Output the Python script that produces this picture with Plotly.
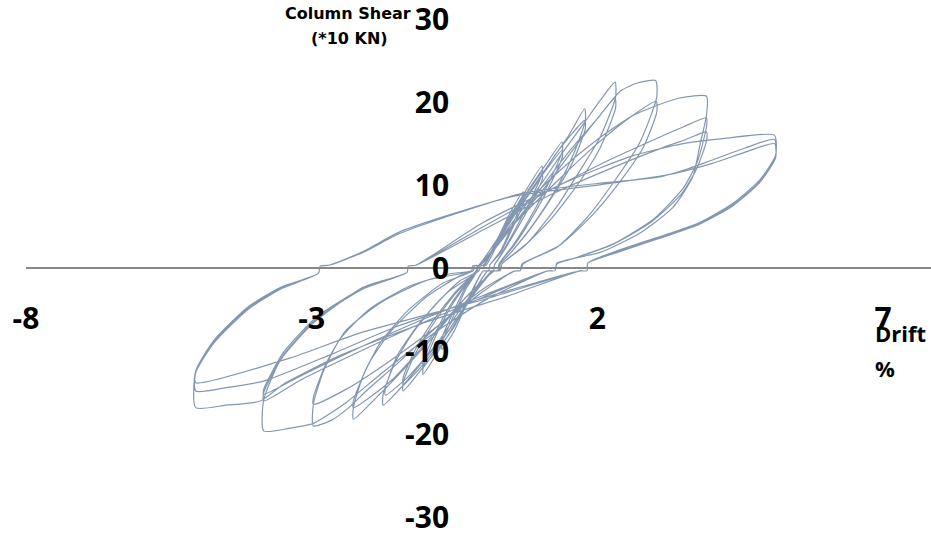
import plotly.graph_objects as go

# Cyclic test record: drift (%) vs column shear (*10 kN), one list per drift level,
# each holding the successive (drift, shear) points of its cycles.
level_1 = [(0.00, 0.0), (0.30, 4.2), (0.50, 7.0), (0.70, 9.2), (0.71, 8.5), (0.50, 5.0), (0.30, 2.0),
           (0.12, 0.4), (0.10, -0.3), (0.00, -0.35), (-0.30, -4.5), (-0.50, -7.5), (-0.72, -9.8),
           (-0.72, -9.0), (-0.50, -5.5), (-0.30, -2.5), (-0.10, -0.3), (-0.08, 0.3), (0.02, 0.35),
           (0.30, 4.0), (0.50, 6.6), (0.70, 8.5), (0.71, 7.9), (0.50, 4.6), (0.30, 1.8), (0.12, 0.4),
           (0.10, -0.3), (0.00, -0.35), (-0.30, -4.2), (-0.50, -7.0), (-0.72, -9.0), (-0.72, -8.4),
           (-0.50, -5.0), (-0.30, -2.2), (-0.10, -0.3), (-0.08, 0.3), (0.02, 0.35)]

level_2 = [(0.30, 4.0), (0.70, 8.8), (1.03, 12.3), (1.04, 11.5), (0.85, 8.5), (0.55, 4.5), (0.30, 1.5),
           (0.20, 0.4), (0.18, -0.3), (0.08, -0.35), (-0.25, -4.0), (-0.65, -8.5), (-1.05, -12.8),
           (-1.05, -12.0), (-0.85, -8.5), (-0.55, -4.5), (-0.25, -1.5), (-0.12, -0.3), (-0.10, 0.3),
           (0.00, 0.35), (0.30, 3.8), (0.70, 8.3), (1.03, 11.5), (1.04, 10.8), (0.85, 7.9), (0.55, 4.2),
           (0.30, 1.4), (0.20, 0.4), (0.18, -0.3), (0.08, -0.35), (-0.25, -3.8), (-0.65, -8.0),
           (-1.05, -12.0), (-1.05, -11.3), (-0.85, -8.0), (-0.55, -4.2), (-0.25, -1.4), (-0.12, -0.3),
           (-0.10, 0.3), (0.00, 0.35)]

level_3 = [(0.35, 4.5), (0.80, 9.5), (1.10, 12.5), (1.38, 15.2), (1.39, 14.2), (1.20, 11.0), (0.90, 7.0),
           (0.55, 3.0), (0.28, 0.5), (0.26, -0.3), (0.16, -0.35), (-0.20, -3.5), (-0.60, -8.0),
           (-1.00, -11.5), (-1.40, -14.8), (-1.40, -13.8), (-1.20, -10.5), (-0.90, -7.0), (-0.50, -3.2),
           (-0.12, -0.3), (-0.10, 0.3), (0.00, 0.35), (0.35, 4.2), (0.80, 9.0), (1.10, 11.8), (1.38, 14.2),
           (1.39, 13.5), (1.20, 10.4), (0.90, 6.6), (0.55, 2.8), (0.28, 0.5), (0.26, -0.3), (0.16, -0.35),
           (-0.20, -3.3), (-0.60, -7.5), (-1.00, -10.8), (-1.40, -14.0), (-1.40, -13.2), (-1.20, -10.0),
           (-0.90, -6.6), (-0.50, -3.0), (-0.12, -0.3), (-0.10, 0.3), (0.00, 0.35)]

level_4 = [(0.30, 4.0), (0.80, 9.0), (1.20, 13.0), (1.50, 16.0), (1.78, 19.2), (1.79, 17.8), (1.60, 14.0),
           (1.30, 9.8), (0.90, 5.5), (0.50, 2.0), (0.30, 0.5), (0.28, -0.3), (0.18, -0.35), (-0.20, -3.5),
           (-0.70, -8.5), (-1.10, -12.0), (-1.45, -14.5), (-1.75, -16.5), (-1.75, -15.2), (-1.55, -11.5),
           (-1.25, -8.0), (-0.85, -4.5), (-0.40, -1.5), (-0.07, -0.3), (-0.05, 0.3), (0.05, 0.35),
           (0.40, 5.0), (0.90, 9.8), (1.30, 14.0), (1.78, 17.8), (1.79, 16.8), (1.55, 12.5), (1.20, 8.5),
           (0.80, 4.5), (0.45, 1.6), (0.30, 0.5), (0.28, -0.3), (0.18, -0.35), (-0.30, -4.0), (-0.80, -9.0),
           (-1.30, -13.0), (-1.71, -15.3), (-1.71, -14.5), (-1.50, -10.5), (-1.10, -6.5), (-0.60, -2.8),
           (-0.07, -0.3), (-0.05, 0.3), (0.05, 0.35)]

level_5 = [(0.30, 3.5), (0.90, 9.0), (1.40, 14.0), (1.80, 17.8), (2.05, 20.2), (2.31, 22.4), (2.32, 20.6),
           (2.05, 15.8), (1.70, 11.8), (1.30, 7.5), (0.80, 3.2), (0.33, 0.5), (0.30, -0.3), (0.20, -0.35),
           (-0.30, -3.5), (-0.90, -8.5), (-1.50, -13.0), (-1.90, -15.8), (-2.27, -18.2), (-2.27, -16.8),
           (-2.10, -13.0), (-1.80, -9.0), (-1.30, -5.0), (-0.70, -1.8), (-0.17, -0.3), (-0.15, 0.3),
           (-0.05, 0.35), (0.40, 4.0), (1.00, 9.5), (1.50, 14.0), (2.00, 18.0), (2.31, 20.5), (2.32, 19.3),
           (2.05, 14.5), (1.70, 10.5), (1.20, 6.0), (0.70, 2.5), (0.33, 0.5), (0.30, -0.3), (0.20, -0.35),
           (-0.30, -3.5), (-1.00, -9.0), (-1.60, -13.5), (-2.27, -16.8), (-2.27, -16.0), (-2.00, -11.5),
           (-1.60, -7.5), (-1.00, -3.5), (-0.40, -0.9), (-0.17, -0.3), (-0.15, 0.3), (-0.05, 0.35)]

level_6 = [(0.30, 3.5), (1.00, 9.0), (1.60, 14.5), (2.00, 18.0), (2.40, 21.3), (2.70, 22.3), (3.02, 22.6),
           (3.04, 20.6), (2.74, 15.1), (2.27, 10.2), (1.82, 6.1), (1.29, 2.5), (0.68, 0.5), (0.65, -0.3),
           (0.55, -0.35), (0.00, -2.5), (-0.80, -7.0), (-1.50, -11.5), (-2.00, -14.5), (-2.35, -16.8),
           (-2.65, -18.3), (-2.97, -19.0), (-2.97, -16.4), (-2.80, -12.5), (-2.50, -8.5), (-2.00, -5.0),
           (-1.30, -2.2), (-0.60, -0.7), (-0.20, -0.3), (-0.18, 0.3), (-0.08, 0.35),
           (0.50, 5.0), (1.30, 10.5), (2.00, 15.0), (2.60, 18.3), (3.03, 20.1), (3.04, 18.8), (2.80, 14.5),
           (2.35, 10.0), (1.90, 6.3), (1.35, 2.8), (0.70, 0.5), (0.65, -0.3), (0.55, -0.35), (0.00, -2.8),
           (-0.90, -7.5), (-1.70, -11.5), (-2.40, -14.6), (-2.97, -16.4), (-2.97, -15.6), (-2.75, -11.5),
           (-2.40, -7.5), (-1.80, -4.2), (-1.00, -1.5), (-0.20, -0.3), (-0.18, 0.3), (-0.08, 0.35)]

level_7 = [(0.50, 6.0), (1.30, 11.5), (2.00, 15.5), (2.60, 18.3), (3.04, 19.6), (3.44, 20.5), (3.91, 20.7),
           (3.91, 18.4), (3.80, 15.0), (3.67, 11.0), (3.32, 7.3), (2.74, 4.2), (2.05, 1.9), (1.29, 0.6),
           (1.26, -0.3), (1.12, -0.35), (0.00, -4.0), (-1.00, -8.5), (-1.80, -12.8), (-2.40, -16.2),
           (-2.97, -18.7), (-3.40, -19.3), (-3.84, -19.6), (-3.84, -15.9), (-3.55, -11.1), (-2.97, -6.6),
           (-2.10, -2.3), (-1.33, -0.5), (-1.31, 0.25), (-1.18, 0.35),
           (0.00, 5.0), (1.20, 9.5), (2.20, 13.0), (3.00, 15.5), (3.50, 17.0), (3.91, 18.1), (3.91, 17.0),
           (3.75, 12.8), (3.50, 9.6), (3.00, 6.0), (2.30, 3.0), (1.60, 1.2), (1.29, 0.5), (1.26, -0.3),
           (1.12, -0.35), (0.00, -3.5), (-1.20, -7.0), (-2.30, -10.5), (-3.20, -13.5), (-3.84, -16.0),
           (-3.84, -15.0), (-3.50, -10.5), (-2.90, -6.0), (-2.10, -2.5), (-1.33, -0.5), (-1.31, 0.25),
           (-1.18, 0.35),
           (0.00, 4.6), (1.20, 8.9), (2.30, 12.2), (3.10, 14.4), (3.55, 15.5), (3.91, 16.4), (3.91, 15.3),
           (3.74, 12.0), (3.48, 9.0), (2.95, 5.6), (2.25, 2.8), (1.55, 1.1), (1.29, 0.5), (1.26, -0.3),
           (1.12, -0.35), (0.00, -3.3), (-1.20, -6.6), (-2.30, -10.0), (-3.20, -13.0), (-3.84, -15.2),
           (-3.84, -14.6), (-3.50, -10.2), (-2.90, -5.8), (-2.10, -2.4), (-1.33, -0.5), (-1.31, 0.25),
           (-1.18, 0.35)]

level_8 = [(0.00, 5.5), (1.50, 10.5), (2.60, 13.5), (3.50, 15.0), (4.20, 15.6), (5.10, 16.0), (5.12, 13.6),
           (4.84, 10.6), (4.37, 7.8), (3.79, 5.5), (3.27, 4.2), (2.39, 2.2), (1.83, 0.6), (1.82, -0.3),
           (1.68, -0.35), (0.50, -3.2), (-1.00, -6.5), (-2.50, -10.5), (-3.50, -14.0), (-3.90, -16.0),
           (-4.50, -16.5), (-5.03, -16.8), (-5.03, -12.4), (-4.71, -8.7), (-4.12, -4.7), (-3.54, -2.3),
           (-2.88, -0.6), (-2.85, 0.25), (-2.70, 0.35),
           (-2.10, 1.9), (-1.45, 4.2), (0.68, 9.0), (2.00, 10.2), (3.10, 11.0), (3.60, 12.0), (4.00, 13.0),
           (4.60, 14.5), (5.10, 15.5), (5.12, 13.4), (4.84, 10.4), (4.37, 7.6), (3.79, 5.4), (3.27, 4.1),
           (2.39, 2.1), (1.83, 0.6), (1.82, -0.3), (1.68, -0.35), (0.00, -3.8), (-2.15, -7.8),
           (-3.37, -10.8), (-5.03, -13.8), (-5.03, -12.4), (-4.71, -8.9), (-4.12, -4.9), (-3.54, -2.4),
           (-2.88, -0.6), (-2.85, 0.25), (-2.70, 0.35),
           (-2.10, 2.0), (-1.45, 4.4), (0.50, 8.6), (2.00, 10.0), (3.20, 11.2), (4.00, 12.6), (4.60, 14.0),
           (5.10, 15.0), (5.12, 13.3), (4.84, 10.3), (4.37, 7.5), (3.79, 5.3), (3.27, 4.0), (2.39, 2.0),
           (1.83, 0.6), (1.82, -0.3), (1.68, -0.35), (0.00, -3.6), (-1.50, -7.0), (-2.70, -10.5),
           (-3.84, -13.6), (-4.50, -14.4), (-5.03, -14.8), (-5.03, -12.6), (-4.71, -9.0), (-4.12, -5.0),
           (-3.54, -2.5), (-2.88, -0.6), (-2.85, 0.25), (-2.70, 0.35)]

levels = [level_1, level_2, level_3, level_4, level_5, level_6, level_7, level_8]

x_ticks = [-8, -3, 2, 7]
y_ticks = [30, 20, 10, 0, -10, -20, -30]

drift = [p[0] for lv in levels for p in lv]
shear = [p[1] for lv in levels for p in lv]

W, H = 931, 533
x_range = [-8, 7.84]
y_range = [-31.9, 32.3]
x_dom = [26 / W, 1.0]

# horizontal axis sits at shear = 0, vertical axis labels sit at drift = 0
y_zero_frac = (0 - y_range[0]) / (y_range[1] - y_range[0])
x_zero_frac = x_dom[0] + (x_dom[1] - x_dom[0]) * (0 - x_range[0]) / (x_range[1] - x_range[0])

fig = go.Figure(go.Scatter(
    x=drift, y=shear, mode="lines",
    line=dict(color="#8497B0", width=1.2, shape="spline", smoothing=0.6),
    hoverinfo="skip", showlegend=False,
))

tick_font = dict(family="Open Sans", size=30, color="#000000", weight="bold")

fig.update_layout(
    width=W, height=H,
    margin=dict(l=0, r=0, t=0, b=0, autoexpand=False),
    paper_bgcolor="white", plot_bgcolor="white",
    xaxis=dict(
        range=x_range, domain=x_dom, anchor="free", position=y_zero_frac,
        tickmode="array", tickvals=x_ticks, ticktext=[str(v) for v in x_ticks],
        showgrid=False, zeroline=False, showline=True, linecolor="#878787", linewidth=1.8,
        ticks="", ticklabelstandoff=24, tickfont=tick_font,
        automargin=False, ticklabeloverflow="allow",
    ),
    yaxis=dict(
        range=y_range, domain=[0, 1], anchor="free", position=x_zero_frac,
        tickmode="array", tickvals=y_ticks, ticktext=[str(v) for v in y_ticks],
        showgrid=False, zeroline=False, showline=False,
        ticks="", ticklabelstandoff=34, tickfont=tick_font,
        automargin=False, ticklabeloverflow="allow",
    ),
    annotations=[
        dict(text="Column Shear", x=413, y=14, xref="paper", yref="paper", showarrow=False,
             xanchor="right", yanchor="middle",
             font=dict(family="DejaVu Sans", size=16, color="#000000", weight="bold")),
        dict(text="(*10 KN)", x=349, y=38, xref="paper", yref="paper", showarrow=False,
             xanchor="center", yanchor="middle",
             font=dict(family="DejaVu Sans", size=16, color="#000000", weight="bold")),
        dict(text="Drift", x=873, y=333, xref="paper", yref="paper", showarrow=False,
             xanchor="left", yanchor="middle",
             font=dict(family="Open Sans", size=22, color="#000000", weight="bold")),
        dict(text="%", x=873, y=368, xref="paper", yref="paper", showarrow=False,
             xanchor="left", yanchor="middle",
             font=dict(family="Open Sans", size=22, color="#000000", weight="bold")),
    ],
)

# annotation positions above are given in pixels; convert to paper fractions
for a in fig.layout.annotations:
    a.x = a.x / W
    a.y = 1 - a.y / H

fig.write_html("out.html")
